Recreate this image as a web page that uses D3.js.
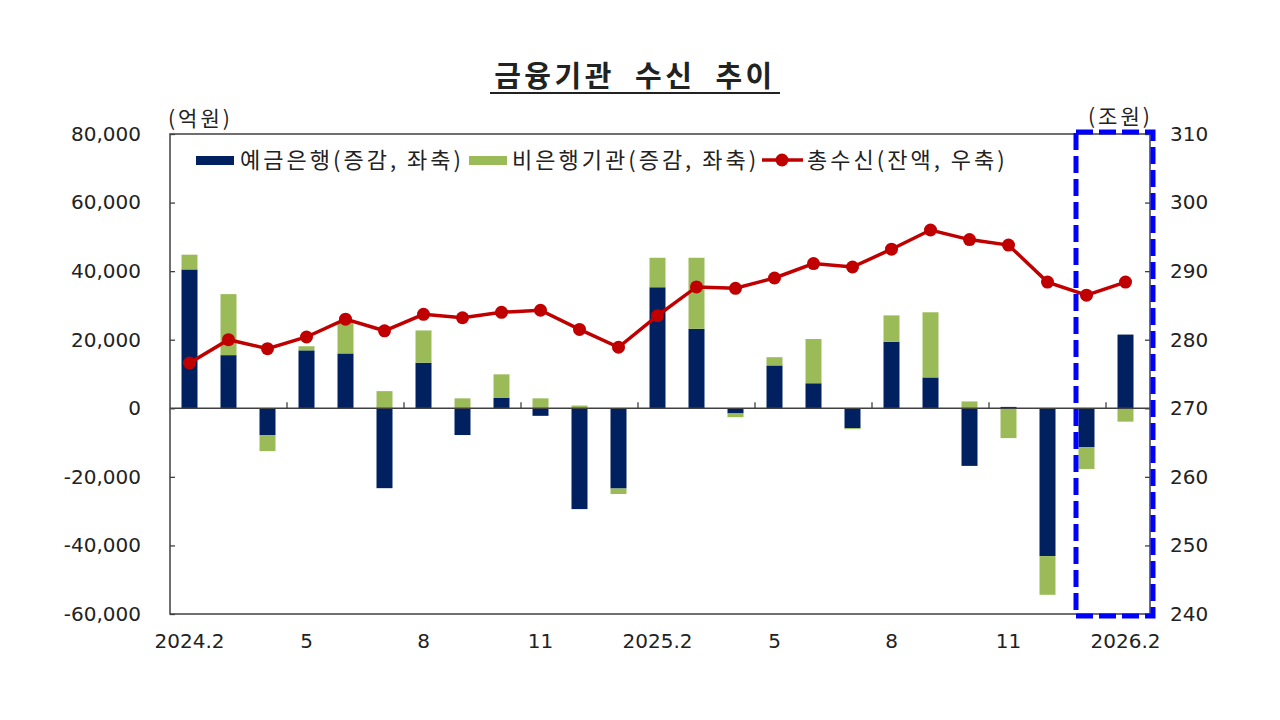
<!DOCTYPE html>
<html>
<head>
<meta charset="utf-8">
<script src="https://cdn.jsdelivr.net/npm/d3@7"></script>
<style>
  body { margin: 0; background: #fff; }
  text { font-family: "Noto Sans CJK KR", "DejaVu Sans", sans-serif; fill: #222; }
  .num { font-family: "DejaVu Sans", sans-serif; font-size: 20px; }
</style>
</head>
<body>
<div id="chart"></div>
<script>

// months on the x axis
const months = ["2024.2","2024.3","2024.4","2024.5","2024.6","2024.7","2024.8","2024.9","2024.10","2024.11","2024.12",
                "2025.1","2025.2","2025.3","2025.4","2025.5","2025.6","2025.7","2025.8","2025.9","2025.10","2025.11","2025.12",
                "2026.1","2026.2"];

// shown tick labels (every 3rd month)
const tickLabels = ["2024.2","5","8","11","2025.2","5","8","11","2026.2"];

// 예금은행 증감 (억원, left axis)
const bankChg = [40500, 15500, -7800, 16900, 16000, -23300, 13300, -7800, 3000, -2200, -29400, -23400,
                 35300, 23200, -1500, 12500, 7300, -5800, 19400, 9000, -16800, 400, -43100, -11300, 21500];

// 비은행기관 증감 (억원, left axis)
const nonbankChg = [4300, 17800, -4700, 1200, 9300, 5000, 9400, 2900, 6900, 2900, 800, -1600,
                    8600, 20700, -1100, 2400, 12900, -300, 7700, 19000, 2000, -8700, -11300, -6400, -3900];

// 총수신 잔액 (조원, right axis)
const totalBal = [276.6, 280.0, 278.7, 280.4, 283.0, 281.3, 283.7, 283.2, 284.0, 284.3, 281.5, 278.9,
                  283.5, 287.7, 287.5, 289.0, 291.1, 290.6, 293.2, 296.0, 294.6, 293.8, 288.4, 286.5, 288.4];

const seriesNames = ["예금은행(증감, 좌축)", "비은행기관(증감, 좌축)", "총수신(잔액, 우축)"];

const width = 1280, height = 720;
const margin = {top: 134, right: 130, bottom: 106, left: 170};
const plotRight = width - margin.right;   // 1150
const plotBottom = height - margin.bottom; // 614

const navy = "#002060", green = "#9bbb59", red = "#c00000", axisColor = "#404040";

const svg = d3.select("#chart")
  .append("svg")
  .attr("width", width)
  .attr("height", height);

// scales
const x = d3.scaleBand()
  .domain(months)
  .range([margin.left, plotRight - 5]);
const barW = x.bandwidth() * 0.41;

const yL = d3.scaleLinear()
  .domain([-60000, 80000])
  .range([plotBottom, margin.top]);

const yR = d3.scaleLinear()
  .domain([240, 310])
  .range([plotBottom, margin.top]);

// stacked bars (diverging)
const table = months.map((m, i) => ({month: m, bank: bankChg[i], nonbank: nonbankChg[i]}));
const stacked = d3.stack()
  .keys(["bank", "nonbank"])
  .offset(d3.stackOffsetDiverging)(table);

const colors = {bank: navy, nonbank: green};

svg.append("g")
  .selectAll("g")
  .data(stacked)
  .join("g")
    .attr("fill", d => colors[d.key])
  .selectAll("rect")
  .data(d => d)
  .join("rect")
    .attr("x", d => x(d.data.month) + (x.bandwidth() - barW) / 2)
    .attr("y", d => yL(Math.max(d[0], d[1])))
    .attr("width", barW)
    .attr("height", d => Math.abs(yL(d[0]) - yL(d[1])));

// frame
svg.append("rect")
  .attr("x", margin.left)
  .attr("y", margin.top)
  .attr("width", plotRight - margin.left)
  .attr("height", plotBottom - margin.top)
  .attr("fill", "none")
  .attr("stroke", axisColor)
  .attr("stroke-width", 1.5);

// left axis
const fmt = d => d3.format(",")(d).replace("\u2212", "-");
const leftAxis = svg.append("g")
  .attr("transform", `translate(${margin.left},0)`)
  .call(d3.axisLeft(yL).tickValues(d3.range(-60000, 80001, 20000)).tickSize(-5).tickSizeOuter(0).tickPadding(29).tickFormat(fmt));
leftAxis.select(".domain").remove();
leftAxis.selectAll("line").attr("stroke", axisColor).attr("stroke-width", 1.3);
leftAxis.selectAll("text").attr("class", "num").attr("fill", "#222");

// right axis
const rightAxis = svg.append("g")
  .attr("transform", `translate(${plotRight},0)`)
  .call(d3.axisRight(yR).tickValues(d3.range(240, 311, 10)).tickSize(-5).tickSizeOuter(0).tickPadding(20));
rightAxis.select(".domain").remove();
rightAxis.selectAll("line").attr("stroke", axisColor).attr("stroke-width", 1.3);
rightAxis.selectAll("text").attr("class", "num").attr("fill", "#222");

// zero line with category ticks
svg.append("line")
  .attr("x1", margin.left).attr("x2", plotRight)
  .attr("y1", yL(0)).attr("y2", yL(0))
  .attr("stroke", axisColor)
  .attr("stroke-width", 1.5);

svg.append("g")
  .selectAll("line")
  .data(months.filter((m, i) => i > 0 && i % 3 === 0))
  .join("line")
    .attr("x1", d => x(d)).attr("x2", d => x(d))
    .attr("y1", yL(0)).attr("y2", yL(0) - 6)
    .attr("stroke", axisColor)
    .attr("stroke-width", 1.3);

// x labels
svg.append("g")
  .selectAll("text")
  .data(months.filter((m, i) => i % 3 === 0))
  .join("text")
    .attr("class", "num")
    .attr("x", d => x(d) + x.bandwidth() / 2)
    .attr("y", 648)
    .attr("text-anchor", "middle")
    .text((d, i) => tickLabels[i]);

// total balance line
const line = d3.line()
  .x((d, i) => x(months[i]) + x.bandwidth() / 2)
  .y(d => yR(d));

svg.append("path")
  .datum(totalBal)
  .attr("d", line)
  .attr("fill", "none")
  .attr("stroke", red)
  .attr("stroke-width", 3.5);

svg.append("g")
  .selectAll("circle")
  .data(totalBal)
  .join("circle")
    .attr("cx", (d, i) => x(months[i]) + x.bandwidth() / 2)
    .attr("cy", d => yR(d))
    .attr("r", 6.5)
    .attr("fill", red);

// unit labels
svg.append("text")
  .attr("x", 168).attr("y", 126)
  .attr("font-size", 21)
  .attr("letter-spacing", 3)
  .text("(억원)");

svg.append("text")
  .attr("x", 1088).attr("y", 124)
  .attr("font-size", 21)
  .attr("letter-spacing", 3)
  .text("(조원)");

// title
svg.append("text")
  .attr("x", 635).attr("y", 87)
  .attr("text-anchor", "middle")
  .attr("font-size", 29)
  .attr("font-weight", "bold")
  .attr("letter-spacing", 3.5)
  .attr("word-spacing", 10)
  .text("금융기관 수신 추이");

svg.append("line")
  .attr("x1", 490).attr("x2", 780)
  .attr("y1", 93).attr("y2", 93)
  .attr("stroke", "#222")
  .attr("stroke-width", 2);

// legend
const legend = svg.append("g").attr("font-size", 22).attr("letter-spacing", 3);

legend.append("rect").attr("x", 196).attr("y", 156).attr("width", 38).attr("height", 9).attr("fill", navy);
legend.append("text").attr("x", 240).attr("y", 168).text(seriesNames[0]);

legend.append("rect").attr("x", 469).attr("y", 156).attr("width", 38).attr("height", 9).attr("fill", green);
legend.append("text").attr("x", 512).attr("y", 168).text(seriesNames[1]);

legend.append("line").attr("x1", 762).attr("x2", 803).attr("y1", 160).attr("y2", 160)
  .attr("stroke", red).attr("stroke-width", 3.5);
legend.append("circle").attr("cx", 782).attr("cy", 160).attr("r", 6.5).attr("fill", red);
legend.append("text").attr("x", 807).attr("y", 168).text(seriesNames[2]);

// highlight box round the last two months
svg.append("rect")
  .attr("x", x("2026.1") + 9)
  .attr("y", margin.top - 2)
  .attr("width", plotRight + 3 - (x("2026.1") + 9))
  .attr("height", plotBottom - margin.top + 4)
  .attr("fill", "none")
  .attr("stroke", "#0000ff")
  .attr("stroke-width", 5)
  .attr("stroke-dasharray", "17,6");

</script>
</body>
</html>
